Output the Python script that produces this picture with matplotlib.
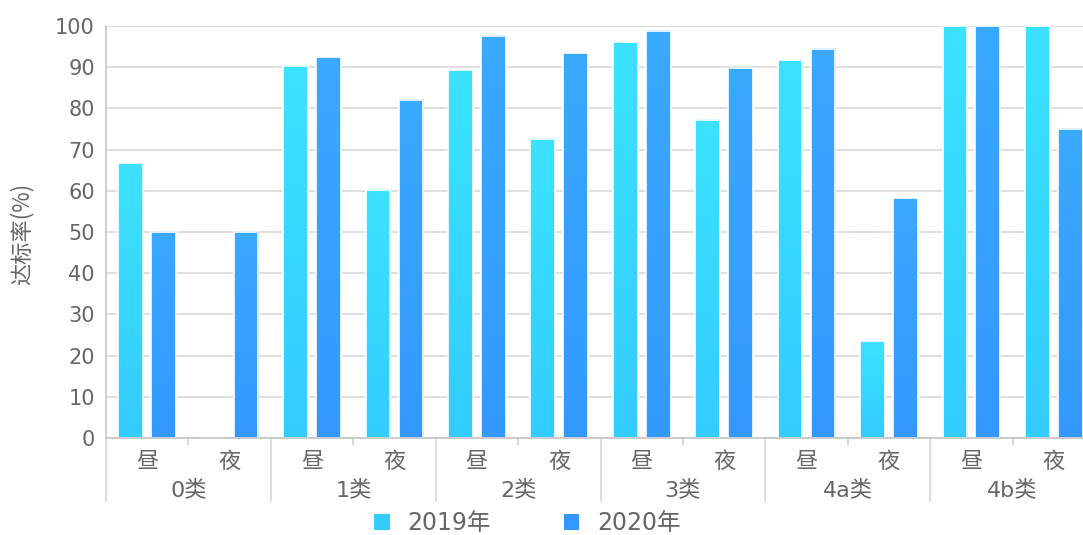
import matplotlib
matplotlib.use('Agg')
import matplotlib.pyplot as plt
import numpy as np
from matplotlib.patches import Patch
import matplotlib.transforms as mtransforms
from matplotlib.colors import LinearSegmentedColormap

plt.rcParams['font.family'] = ['DejaVu Sans', 'Noto Sans CJK SC']

groups = ['0类', '1类', '2类', '3类', '4a类', '4b类']
periods = ['昼', '夜']
series_names = ['2019年', '2020年']
v2019 = [66.7, 0, 90.3, 60.2, 89.3, 72.6, 96.0, 77.2, 91.7, 23.5, 100, 100]
v2020 = [50, 50, 92.4, 82.1, 97.6, 93.4, 98.8, 89.9, 94.5, 58.2, 100, 75.0]
yticks = [0, 10, 20, 30, 40, 50, 60, 70, 80, 90, 100]
ylabel = '达标率(%)'

col2019 = ('#3be3ff', '#33ccff')   # top, bottom
col2020 = ('#3aa9ff', '#3399ff')

fig = plt.figure(figsize=(10.83, 5.35), dpi=100)
ax = fig.add_axes([106 / 1083, 97 / 535, 989 / 1083, 412 / 535])

n = len(groups) * len(periods)
x = np.arange(n)
bw = 0.30
off = 0.20

def gradient_bars(xpos, vals, cols):
    bars = ax.bar(xpos, vals, width=bw, facecolor='none', edgecolor='white',
                  linewidth=1.2, zorder=3)
    cmap = LinearSegmentedColormap.from_list('g', [cols[1], cols[0]])
    grad = np.linspace(0, 1, 256).reshape(-1, 1)
    for b in bars:
        h = b.get_height()
        if h <= 0:
            continue
        bx = b.get_x()
        ax.imshow(grad, extent=[bx, bx + b.get_width(), 0, h], origin='lower',
                  cmap=cmap, aspect='auto', zorder=2.9, interpolation='bilinear')
    return bars

gradient_bars(x - off, v2019, col2019)
gradient_bars(x + off, v2020, col2020)

ax.set_xlim(-0.5, n - 0.5)
ax.set_ylim(0, 100)
ax.set_yticks(yticks)
ax.tick_params(axis='y', length=0, pad=8, labelsize=15, labelcolor='#666666')
ax.yaxis.grid(True, color='#d9d9d9', linewidth=1.2)
ax.set_axisbelow(True)

ax.set_xticks([])
ax.set_xticks(np.arange(0.5, n, 2), minor=True)
ax.tick_params(axis='x', which='minor', length=5, color='#cccccc', width=1.1,
               labelbottom=False)

for s in ['top', 'right']:
    ax.spines[s].set_visible(False)
ax.spines['left'].set_color('#c4c4c4')
ax.spines['left'].set_linewidth(1.1)
ax.spines['bottom'].set_color('#c0c0c0')
ax.spines['bottom'].set_linewidth(1.1)
ax.spines['bottom'].set_zorder(4)

trans = mtransforms.blended_transform_factory(ax.transData, ax.transAxes)
for gx in np.arange(-0.5, n, 2):
    ax.plot([gx, gx], [0, -0.152], transform=trans, color='#d4d4d4',
            linewidth=1.1, clip_on=False, zorder=1)

for i in range(n):
    ax.text(x[i], -0.058, periods[i % 2], transform=trans, ha='center',
            va='center', fontsize=16, color='#666666')
for g, name in enumerate(groups):
    ax.text(2 * g + 0.5, -0.126, name, transform=trans, ha='center',
            va='center', fontsize=16, color='#666666')

fig.text(22 / 1083, 1 - 234 / 535, ylabel, rotation=90, ha='center',
         va='center', fontsize=16, color='#666666',
         family=['Noto Sans CJK SC', 'DejaVu Sans'])

handles = [Patch(facecolor=col2019[1], edgecolor='none'),
           Patch(facecolor=col2020[1], edgecolor='none')]
fig.legend(handles, series_names, loc='center', bbox_to_anchor=(0.487, 0.022),
           ncol=2, frameon=False, fontsize=17, handlelength=0.65,
           handleheight=0.65, handletextpad=0.75, columnspacing=3.1,
           labelcolor='#666666')

fig.savefig('out.png', dpi=100)
